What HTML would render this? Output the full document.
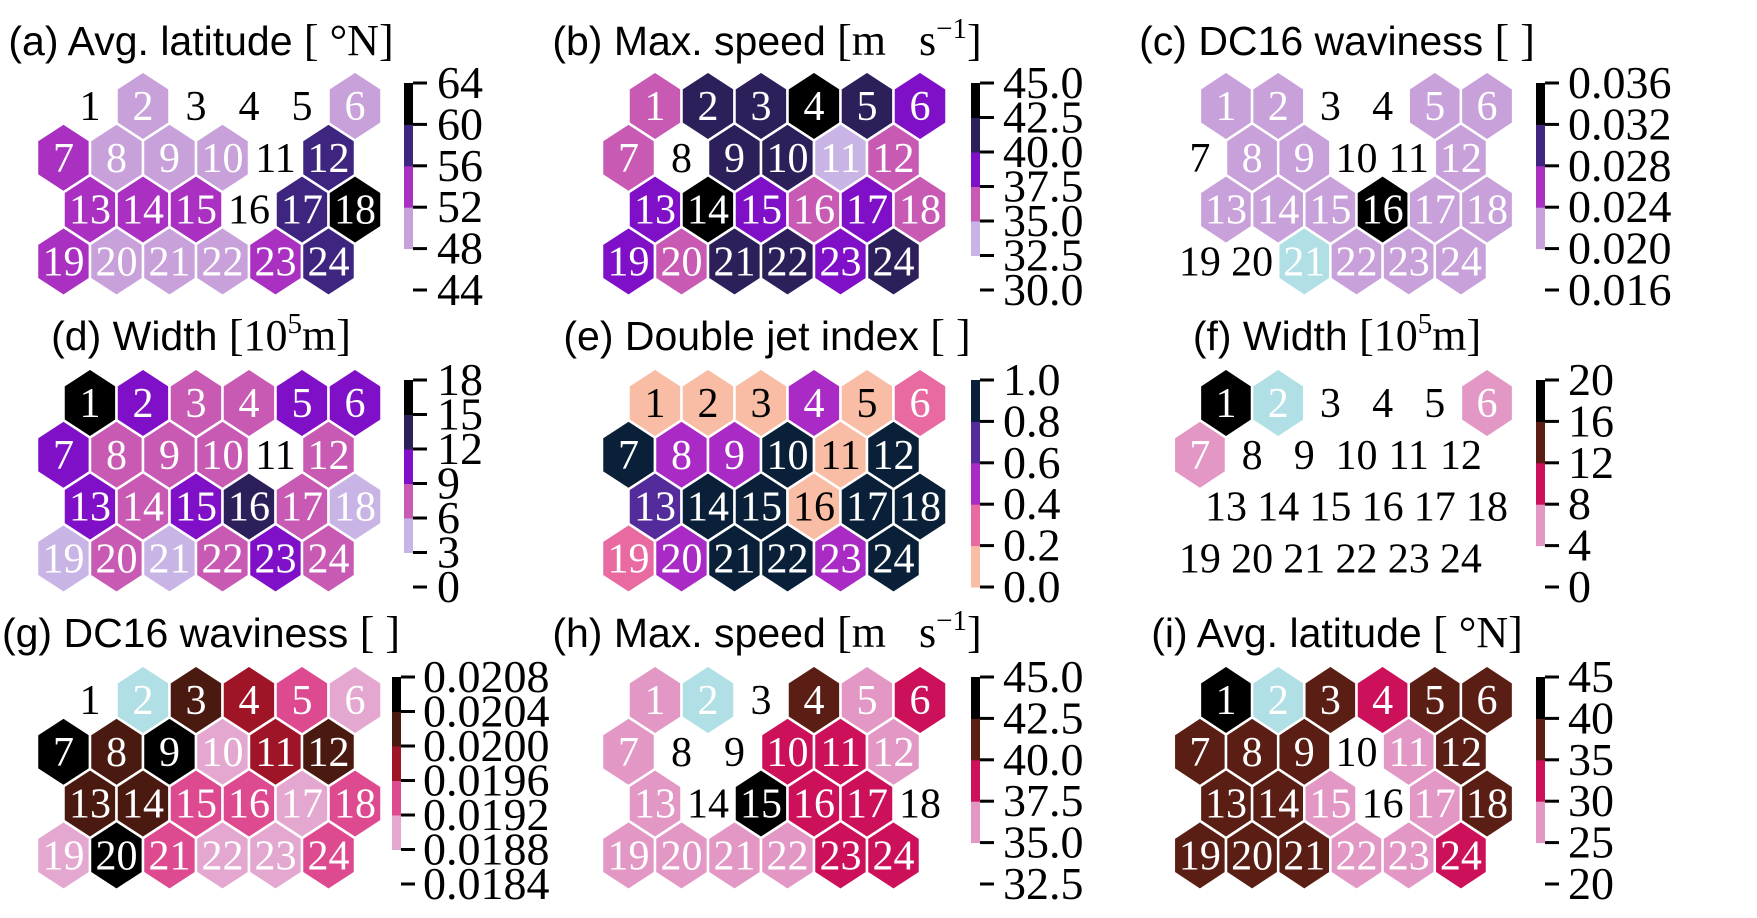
<!DOCTYPE html>
<html><head><meta charset="utf-8"><style>
html,body{margin:0;padding:0;background:#fff;}
svg{display:block}
.t{font-family:"Liberation Sans",sans-serif;font-size:41px;fill:#000}
.s{font-family:"Liberation Serif",serif}
.cb{font-family:"Liberation Serif",serif;font-size:46px;fill:#000}
.hl{font-family:"Liberation Serif",serif;font-size:42px}
</style></head><body>
<svg id="fig" width="1757" height="918" viewBox="0 0 1757 918" xmlns="http://www.w3.org/2000/svg"></svg>
<script>
// ---- data (values per hex 1..24, null = empty cell; U = under range) ----
const U = -1e9;
const valsA = [null,50,null,null,null,50,54,50,50,50,null,58,54,54,54,null,58,62,54,50,50,50,54,58];
const valsB = [36,41,41,44,41,38.5,36,null,41,41,33.5,36,38.5,44,38.5,36,38.5,36,38.5,36,41,41,38.5,41];
const valsC = [.022,.022,null,null,.022,.022,null,.022,.022,null,null,.022,.022,.022,.022,.034,.022,.022,null,null,U,.022,.022,.022];
const valsD = [16.5,10.5,7.5,7.5,10.5,10.5,10.5,7.5,7.5,7.5,null,7.5,10.5,7.5,10.5,13.5,7.5,4.5,4.5,7.5,4.5,7.5,10.5,7.5];
const valsE = [.1,.1,.1,.5,.1,.3,.9,.5,.5,.9,.1,.9,.7,.9,.9,.1,.9,.9,.3,.5,.9,.9,.5,.9];
const valsF = [18,U,null,null,null,6,6,null,null,null,null,null,null,null,null,null,null,null,null,null,null,null,null,null];
const valsG = [null,U,.0202,.0198,.0194,.0190,.0206,.0202,.0206,.0190,.0198,.0202,.0202,.0202,.0194,.0194,.0190,.0194,.0190,.0206,.0194,.0190,.0190,.0194];
const valsH = [36,U,null,41,36,38.5,36,null,null,38.5,38.5,36,36,null,44,38.5,38.5,null,36,36,36,36,38.5,38.5];
const valsI = [42,U,37,32,37,37,37,37,37,null,27,37,37,37,27,null,27,37,37,37,37,27,27,32];
// ---- colorbar tick labels (top to bottom) ----
const ticksA = ["64","60","56","52","48","44"];
const ticksB = ["45.0","42.5","40.0","37.5","35.0","32.5","30.0"];
const ticksC = ["0.036","0.032","0.028","0.024","0.020","0.016"];
const ticksD = ["18","15","12","9","6","3","0"];
const ticksE = ["1.0","0.8","0.6","0.4","0.2","0.0"];
const ticksF = ["20","16","12","8","4","0"];
const ticksG = ["0.0208","0.0204","0.0200","0.0196","0.0192","0.0188","0.0184"];
const ticksH = ["45.0","42.5","40.0","37.5","35.0","32.5"];
const ticksI = ["45","40","35","30","25","20"];

const UNDER = "#b0dfe5";
const purpleA = ["#c8a0da","#a930c0","#3e2680","#000000"];
const purpleB = ["#c8b5e6","#c85ab4","#8010c8","#2c1f5a","#000000"];
const pinkE = ["#f9bca4","#e86aa0","#a92ac4","#542b9a","#0a2038"];
const brownF = ["#e397c5","#cc105a","#5a1e14","#000000"];
const brownG = ["#e4a8d0","#de4a90","#a01428","#4a1a10","#000000"];

const panels = [
 {id:"a",title:["(a) Avg. latitude ",["[ °N]"]],vals:valsA,ticks:ticksA,colors:purpleA,col:0,row:0,cbx:404,lx:437},
 {id:"b",title:["(b) Max. speed ",["[m   s",["−1"],"]"]],vals:valsB,ticks:ticksB,colors:purpleB,col:1,row:0,cbx:971,lx:1003},
 {id:"c",title:["(c) DC16 waviness ",["[ ]"]],vals:valsC,ticks:ticksC,colors:purpleA,col:2,row:0,cbx:1536,lx:1568},
 {id:"d",title:["(d) Width ",["[10",["5"],"m]"]],vals:valsD,ticks:ticksD,colors:purpleB,col:0,row:1,cbx:404,lx:437},
 {id:"e",title:["(e) Double jet index ",["[ ]"]],vals:valsE,ticks:ticksE,colors:pinkE,col:1,row:1,cbx:971,lx:1003,dark:[0]},
 {id:"f",title:["(f) Width ",["[10",["5"],"m]"]],vals:valsF,ticks:ticksF,colors:brownF,col:2,row:1,cbx:1536,lx:1568},
 {id:"g",title:["(g) DC16 waviness ",["[ ]"]],vals:valsG,ticks:ticksG,colors:brownG,col:0,row:2,cbx:392,lx:423},
 {id:"h",title:["(h) Max. speed ",["[m   s",["−1"],"]"]],vals:valsH,ticks:ticksH,colors:brownF,col:1,row:2,cbx:971,lx:1003},
 {id:"i",title:["(i) Avg. latitude ",["[ °N]"]],vals:valsI,ticks:ticksI,colors:brownF,col:2,row:2,cbx:1536,lx:1568}
];

const NS="http://www.w3.org/2000/svg";
const svg=document.getElementById("fig");
function mk(tag,attrs,parent){const e=document.createElementNS(NS,tag);for(const k in attrs)e.setAttribute(k,attrs[k]);parent.appendChild(e);return e;}

const colX0=[90,655,1226], colStep=[53,53,52.2], titleCX=[201,767,1337];
const rowY0=[106,403,700], titleY=[55,350,647];
const ROWH=51.8, RV=34.5;

panels.forEach(p=>{
  const g=mk("g",{},svg);
  
  
  const t=mk("text",{x:titleCX[p.col],y:titleY[p.row],"text-anchor":"middle",class:"t"},g);
  
  
  t.style.whiteSpace="pre";
  t.appendChild(document.createTextNode(p.title[0]));
  let raised=false;
  p.title[1].forEach(part=>{
    if(typeof part==="string"){
      const ts=mk("tspan",{class:"s","font-size":"44"},t);
      if(raised){ts.setAttribute("dy","17");raised=false;}
      ts.textContent=part;
    } else {
      const ts=mk("tspan",{class:"s","font-size":"29","dy":"-17"},t);
      ts.textContent=part[0];raised=true;
    }
  });
  const nT=p.ticks.length;
  const top=rowY0[p.row]-23, bot=rowY0[p.row]+184;
  const tickY=i=>top+(bot-top)*i/(nT-1);
  const nBands=p.colors.length;
  const vmax=parseFloat(p.ticks[0]), vmin=parseFloat(p.ticks[nBands]);
  const bandOf=v=>{if(v<vmin)return -1;let k=Math.floor((v-vmin)/(vmax-vmin)*nBands);return Math.min(nBands-1,Math.max(0,k));};
  const step=colStep[p.col], hw=step/2;
  p.vals.forEach((v,i)=>{
    const r=Math.floor(i/6), c=i%6;
    const cx=colX0[p.col]+c*step-(r%2?hw:0);
    const cy=rowY0[p.row]+r*ROWH;
    let textFill="#000";
    if(v!==null){
      const b=bandOf(v);
      const fill=b<0?UNDER:p.colors[b];
      const pts=[[cx,cy-RV],[cx+hw,cy-RV/2],[cx+hw,cy+RV/2],[cx,cy+RV],[cx-hw,cy+RV/2],[cx-hw,cy-RV/2]].map(q=>q.join(",")).join(" ");
      const h=mk("polygon",{points:pts,fill:fill,stroke:"#fff","stroke-width":"2.5"},g);
      
      
      textFill=(p.dark&&p.dark.includes(b))?"#000":"#fff";
    }
    const lb=mk("text",{x:cx,y:cy+14,"text-anchor":"middle",class:"hl",fill:textFill},g);
    
    
    lb.textContent=String(i+1);
  });
  const cb=mk("g",{},g);
  
  
  for(let k=0;k<nBands;k++){
    const y1=tickY(nBands-1-k), y2=tickY(nBands-k);
    const rct=mk("rect",{x:p.cbx,y:y1,width:9,height:y2-y1+0.5,fill:p.colors[k]},cb);
    
    
  }
  p.ticks.forEach((lab,i)=>{
    const y=tickY(i);
    const tk=mk("rect",{x:p.cbx+9,y:y-1.5,width:14,height:3,fill:"#000"},cb);
    
    
    const tl=mk("text",{x:p.lx,y:y+15,class:"cb"},cb);
    
    
    tl.textContent=lab;
  });
});
</script>
</body></html>
